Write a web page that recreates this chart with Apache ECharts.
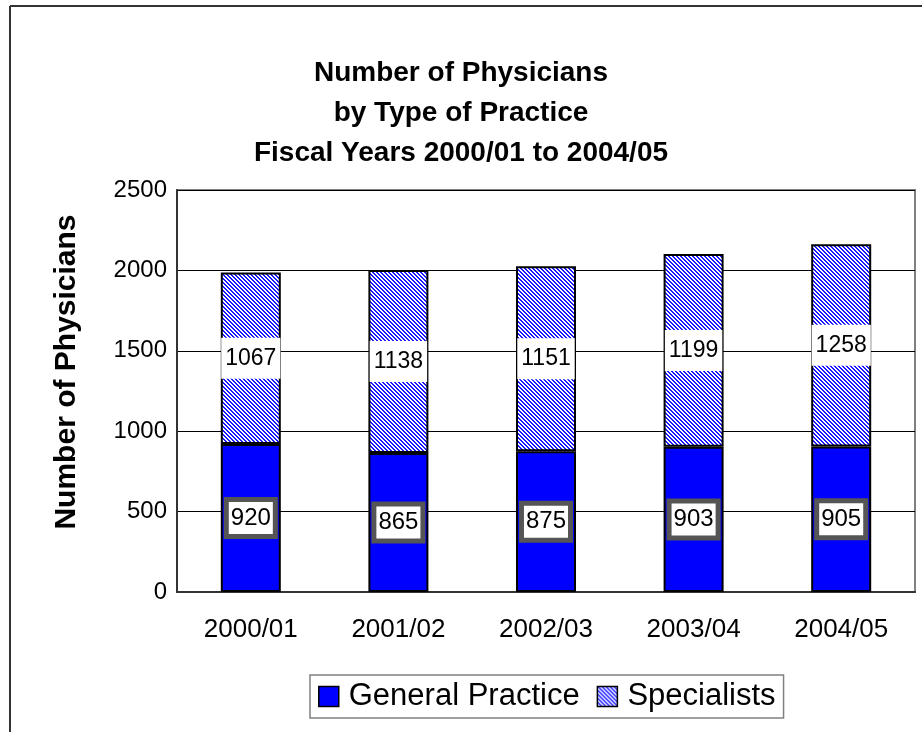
<!DOCTYPE html>
<html>
<head>
<meta charset="utf-8">
<script src="https://cdn.jsdelivr.net/npm/echarts@6/dist/echarts.min.js"></script>
<style>
html,body{margin:0;padding:0;background:#fff;}
#chart{width:922px;height:732px;}
</style>
</head>
<body>
<div id="chart"></div>
<script>
var categories = ['2000/01', '2001/02', '2002/03', '2003/04', '2004/05'];
var generalPractice = [920, 865, 875, 903, 905];
var specialists = [1067, 1138, 1151, 1199, 1258];
var yTicks = [0, 500, 1000, 1500, 2000, 2500];

function makePattern() {
  var c = document.createElement('canvas');
  c.width = 4; c.height = 4;
  var ctx = c.getContext('2d');
  for (var y = 0; y < 4; y++) {
    for (var x = 0; x < 4; x++) {
      var on = ((x - y + 8) % 4) < 2;
      ctx.fillStyle = on ? '#1a1aff' : '#ffffff';
      ctx.fillRect(x, y, 1, 1);
    }
  }
  return c;
}
var pattern = { image: makePattern(), repeat: 'repeat' };

var chart = echarts.init(document.getElementById('chart'), null, { renderer: 'canvas' });
var font = 'Arial, "Liberation Sans", sans-serif';

chart.setOption({
  animation: false,
  backgroundColor: '#ffffff',
  textStyle: { fontFamily: font },
  title: {
    text: 'Number of Physicians\nby Type of Practice\nFiscal Years 2000/01 to 2004/05',
    left: 'center',
    top: 48,
    textStyle: { fontFamily: font, fontSize: 28, fontWeight: 'bold', color: '#000', lineHeight: 40 }
  },
  graphic: [
    { type: 'line', shape: { x1: 10, y1: 6, x2: 922, y2: 6 }, style: { stroke: '#333', lineWidth: 2 } },
    { type: 'line', shape: { x1: 10, y1: 6, x2: 10, y2: 732 }, style: { stroke: '#333', lineWidth: 2 } }
  ],
  grid: {
    left: 177, right: 7, top: 190, bottom: 140,
    show: true, borderColor: '#808080', borderWidth: 2, backgroundColor: 'transparent'
  },
  legend: {
    data: ['General Practice', 'Specialists'],
    left: 310, top: 675,
    padding: [6, 8],
    itemGap: 17,
    itemWidth: 20, itemHeight: 20,
    borderColor: '#808080', borderWidth: 1.5,
    icon: 'rect',
    itemStyle: { borderColor: '#000', borderWidth: 1.5 },
    textStyle: { fontFamily: font, fontSize: 31, color: '#000', padding: [0, 0, 0, 5] }
  },
  xAxis: {
    type: 'category',
    data: categories,
    axisLine: { lineStyle: { color: '#333', width: 2 } },
    axisTick: { show: false },
    axisLabel: { fontFamily: font, fontSize: 26, color: '#000', margin: 25 }
  },
  yAxis: {
    type: 'value',
    min: yTicks[0], max: yTicks[yTicks.length - 1], interval: 500,
    name: 'Number of Physicians',
    nameLocation: 'middle',
    nameGap: 95,
    nameRotate: 90,
    nameTextStyle: { fontFamily: font, fontSize: 30, fontWeight: 'bold', color: '#000', padding: [0, 0, 0, 38] },
    axisLine: { show: true, lineStyle: { color: '#333', width: 2 } },
    axisTick: { show: false },
    axisLabel: { fontFamily: font, fontSize: 24, color: '#000', margin: 10, formatter: function (v) { return String(v); } },
    splitLine: { lineStyle: { color: '#000', width: 1 } }
  },
  series: [
    {
      name: 'General Practice',
      type: 'bar',
      stack: 'total',
      barWidth: 60,
      data: generalPractice,
      itemStyle: { color: '#0000ff', borderColor: '#000', borderWidth: 2 },
      label: {
        show: true, position: 'inside',
        fontFamily: font, fontSize: 24, color: '#000', lineHeight: 26,
        backgroundColor: '#fff', borderColor: '#555', borderWidth: 5,
        padding: [3, 2]
      }
    },
    {
      name: 'Specialists',
      type: 'bar',
      stack: 'total',
      barWidth: 60,
      data: specialists,
      itemStyle: { color: pattern, borderColor: '#000', borderWidth: 2 },
      label: {
        show: true, position: 'inside',
        fontFamily: font, fontSize: 23, color: '#000', lineHeight: 23,
        backgroundColor: '#fff',
        padding: [9, 4]
      }
    }
  ]
});
</script>
</body>
</html>
